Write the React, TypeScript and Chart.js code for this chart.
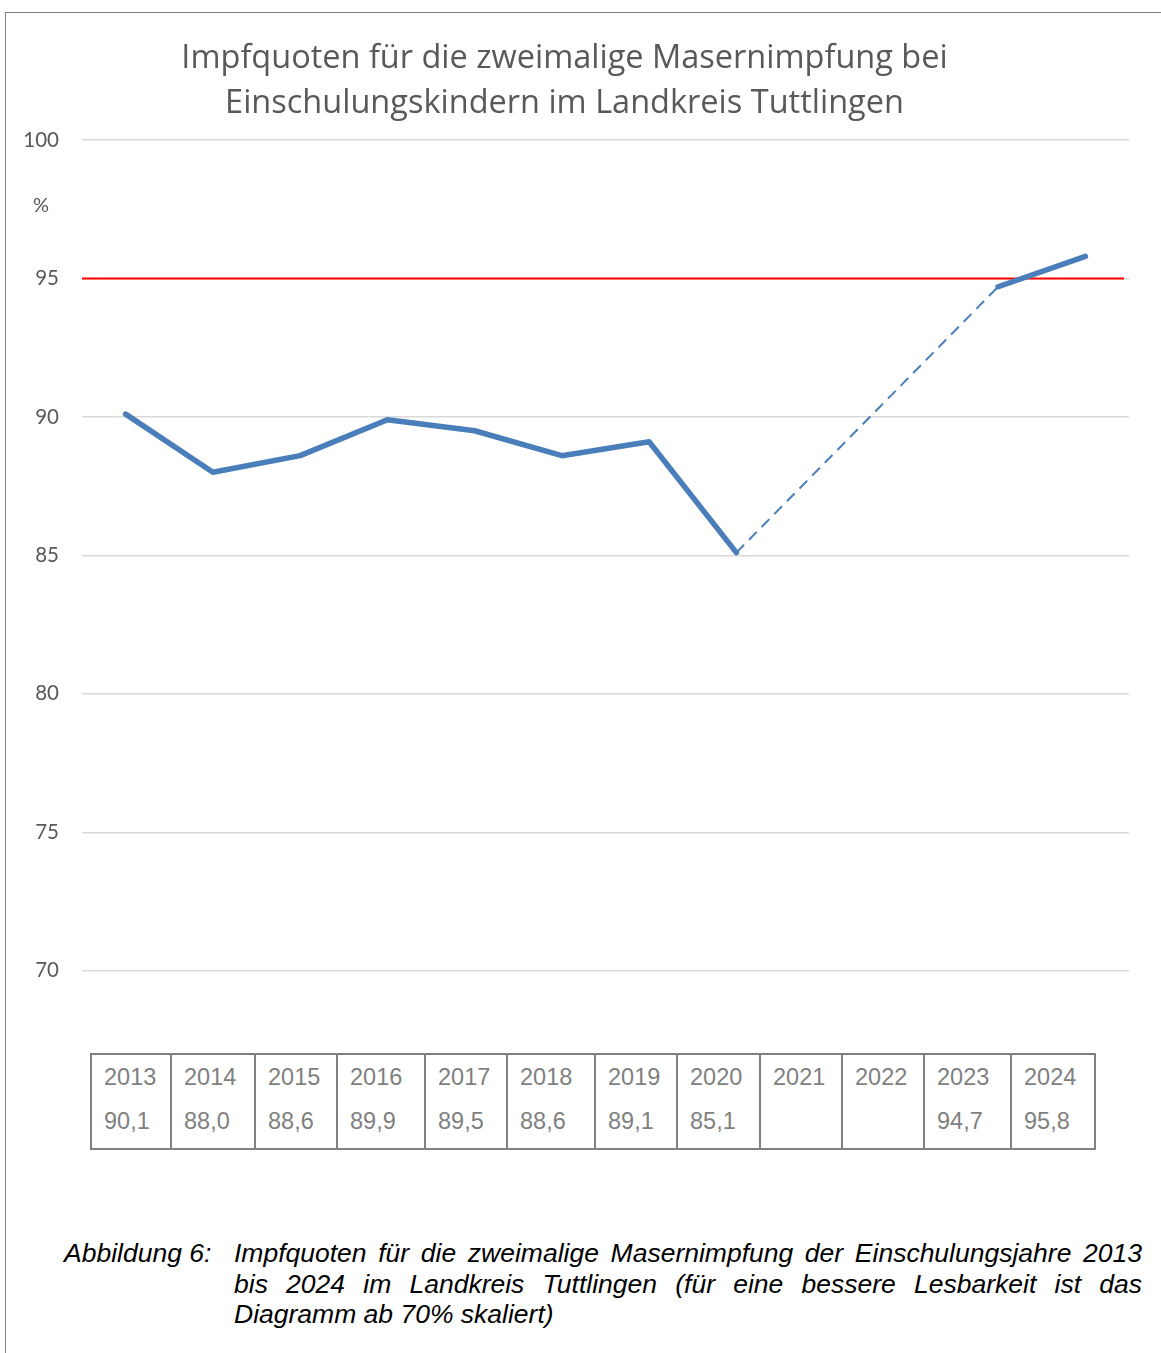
import React, { useEffect, useRef } from "react";
import { Chart, registerables } from "chart.js";

Chart.register(...registerables);

const years = ["2013", "2014", "2015", "2016", "2017", "2018", "2019", "2020", "2021", "2022", "2023", "2024"];
const rates: (number | null)[] = [90.1, 88.0, 88.6, 89.9, 89.5, 88.6, 89.1, 85.1, null, null, 94.7, 95.8];
const targetRate = 95;
const yTicks = [70, 75, 80, 85, 90, 95, 100];
const titleLines = ["Impfquoten für die zweimalige Masernimpfung bei", "Einschulungskindern im Landkreis Tuttlingen"];
const unitLabel = "%";
const captionLabel = "Abbildung 6:";
const captionLines = [
  "Impfquoten für die zweimalige Masernimpfung der Einschulungsjahre 2013",
  "bis 2024 im Landkreis Tuttlingen (für eine bessere Lesbarkeit ist das",
  "Diagramm ab 70% skaliert)",
];

const colWidths = [82, 84, 82, 88, 82, 88, 82, 83, 82, 82, 87, 82];

const BLUE = "#4a7ebb";
const GRAY_TEXT = "#595959";

const isGap = (ctx: any) => ctx.p0.skip || ctx.p1.skip;

const targetPlugin = {
  id: "targetLine",
  beforeDatasetsDraw(chart: any) {
    const { ctx, chartArea, scales } = chart;
    const y = scales.y.getPixelForValue(targetRate);
    ctx.save();
    ctx.strokeStyle = "#ff0000";
    ctx.lineWidth = 2;
    ctx.beginPath();
    ctx.moveTo(chartArea.left, y);
    ctx.lineTo(chartArea.right - 5, y);
    ctx.stroke();
    ctx.restore();
  },
  afterDraw(chart: any) {
    const { ctx, chartArea } = chart;
    ctx.save();
    ctx.fillStyle = GRAY_TEXT;
    ctx.font = "20px Lato";
    ctx.textAlign = "center";
    ctx.textBaseline = "middle";
    ctx.fillText(unitLabel, 41, chartArea.top + 66);
    ctx.restore();
  },
};

export default function App() {
  const ref = useRef<HTMLCanvasElement>(null);

  useEffect(() => {
    if (!ref.current) return;
    const chart = new Chart(ref.current, {
      type: "line",
      data: {
        labels: years,
        datasets: [
          {
            data: rates,
            borderColor: BLUE,
            borderWidth: 5.5,
            borderCapStyle: "round",
            borderJoinStyle: "round",
            pointRadius: 0,
            pointHoverRadius: 0,
            spanGaps: true,
            tension: 0,
            segment: {
              borderDash: (ctx: any) => (isGap(ctx) ? [11, 7] : undefined),
              borderWidth: (ctx: any) => (isGap(ctx) ? 2 : undefined),
              borderCapStyle: (ctx: any) => (isGap(ctx) ? "butt" : undefined),
            },
          } as any,
        ],
      },
      options: {
        animation: false,
        responsive: false,
        maintainAspectRatio: false,
        layout: { padding: { top: 0, right: 5, bottom: 20, left: 0 } },
        plugins: {
          legend: { display: false },
          tooltip: { enabled: false },
          title: {
            display: true,
            text: titleLines,
            color: GRAY_TEXT,
            font: { family: "'Open Sans'", size: 32.5, weight: "normal", lineHeight: 45 / 32.5 },
            padding: { top: 36, bottom: 14 },
          },
        },
        scales: {
          x: {
            type: "category",
            offset: true,
            display: false,
            grid: { display: false },
          },
          y: {
            min: 70,
            max: 100,
            afterBuildTicks: (scale: any) => {
              scale.ticks = yTicks.map((v) => ({ value: v }));
            },
            afterFit: (scale: any) => {
              scale.width = 82;
            },
            border: { display: false },
            grid: { color: "#d9d9d9", lineWidth: 1.5, drawTicks: false },
            ticks: {
              color: GRAY_TEXT,
              font: { family: "Lato", size: 20.5 },
              padding: 23,
            },
          },
        },
      },
      plugins: [targetPlugin],
    });
    return () => chart.destroy();
  }, []);

  const captionStyle: React.CSSProperties = {
    fontFamily: "'Liberation Sans', Arial, sans-serif",
    fontStyle: "italic",
    fontSize: 26.5,
    lineHeight: "30.5px",
    color: "#000",
    whiteSpace: "nowrap",
  };

  return (
    <div style={{ position: "absolute", left: 0, top: 0, width: 1161, height: 1353, overflow: "hidden", background: "#fff" }}>
      <div
        style={{
          position: "absolute",
          left: 5,
          top: 12,
          width: 1200,
          height: 1400,
          borderLeft: "1.5px solid #7f7f7f",
          borderTop: "1.5px solid #7f7f7f",
        }}
      />
      <canvas ref={ref} width={1134} height={1006} style={{ position: "absolute", left: 0, top: 0, width: 1134, height: 1006 }} />
      <div
        style={{
          position: "absolute",
          left: 90,
          top: 1053,
          height: 97,
          display: "flex",
          border: "2px solid #808080",
          boxSizing: "border-box",
          fontFamily: "'Liberation Sans', Arial, sans-serif",
          fontSize: 23.5,
          color: "#7f7f7f",
        }}
      >
        {years.map((yr, i) => (
          <div
            key={yr}
            style={{
              width: colWidths[i] - (i === 0 ? 2 : 0),
              boxSizing: "border-box",
              borderRight: i < years.length - 1 ? "2px solid #808080" : "none",
              paddingLeft: 12,
            }}
          >
            <div style={{ height: 44, lineHeight: "44px" }}>{yr}</div>
            <div style={{ height: 44, lineHeight: "44px" }}>
              {rates[i] === null ? "" : (rates[i] as number).toFixed(1).replace(".", ",")}
            </div>
          </div>
        ))}
      </div>
      <div style={{ ...captionStyle, position: "absolute", left: 64, top: 1238 }}>{captionLabel}</div>
      <div style={{ position: "absolute", left: 234, top: 1238, width: 908 }}>
        {captionLines.map((line, i) => (
          <div
            key={i}
            style={{
              ...captionStyle,
              whiteSpace: "normal",
              textAlign: "justify",
              textAlignLast: i < captionLines.length - 1 ? "justify" : "left",
            }}
          >
            {line}
          </div>
        ))}
      </div>
    </div>
  );
}
